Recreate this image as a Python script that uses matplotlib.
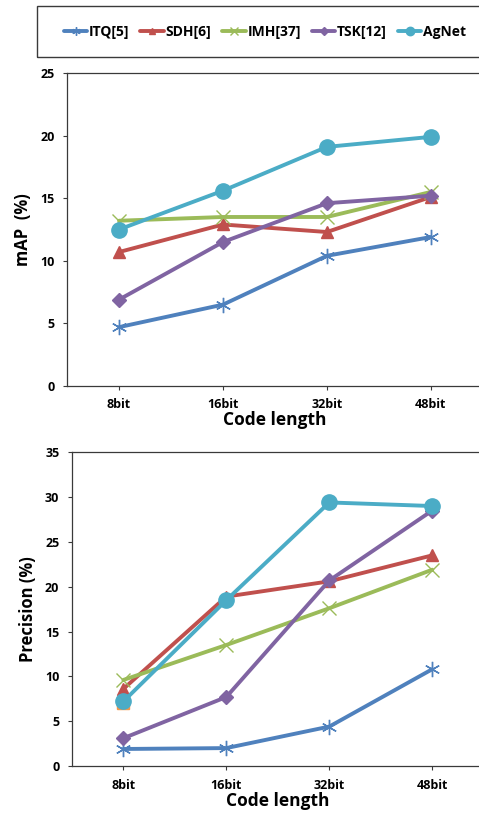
import matplotlib
matplotlib.use("Agg")
import matplotlib.pyplot as plt
from matplotlib.patches import Rectangle

plt.rcParams['font.family'] = ['Open Sans', 'DejaVu Sans']
plt.rcParams['font.weight'] = 'bold'

# Data
code_lengths = ["8bit", "16bit", "32bit", "48bit"]
methods = ["ITQ[5]", "SDH[6]", "IMH[37]", "TSK[12]", "AgNet"]

map_itq = [4.7, 6.5, 10.4, 11.9]
map_sdh = [10.7, 12.9, 12.3, 15.1]
map_imh = [13.2, 13.5, 13.5, 15.5]
map_tsk = [6.9, 11.5, 14.6, 15.2]
map_agnet = [12.5, 15.6, 19.1, 19.9]

prec_itq = [1.9, 2.0, 4.4, 10.8]
prec_sdh = [8.6, 18.9, 20.6, 23.5]
prec_imh = [9.6, 13.5, 17.6, 21.9]
prec_tsk = [3.1, 7.7, 20.7, 28.5]
prec_agnet = [7.2, 18.5, 29.4, 29.0]
prec_stray = [7.0]  # orange square peeking out under AgNet at 8bit

colors = ["#4F81BD", "#C0504D", "#9BBB59", "#8064A2", "#4BACC6"]
markers = [(6, 2, 0), "^", "x", "D", "o"]
msizes = [11, 9, 10, 7, 11]

fig = plt.figure(figsize=(4.79, 8.15), dpi=100)


def draw(ax, series, ylim, yticks, ylabel):
    x = range(len(code_lengths))
    for vals, c, m, ms, name in zip(series, colors, markers, msizes, methods):
        ax.plot(x, vals, color=c, lw=2.8, marker=m, markersize=ms,
                markeredgewidth=1.0, markeredgecolor=c, label=name,
                solid_capstyle='round', zorder=3)
    ax.set_xlim(-0.5, 3.5)
    ax.set_ylim(*ylim)
    ax.set_yticks(yticks)
    ax.set_xticks(list(x))
    ax.set_xticklabels(code_lengths)
    for s in ["left", "top", "bottom"]:
        ax.spines[s].set_color("#3a3a3a")
        ax.spines[s].set_linewidth(0.9)
    ax.spines["right"].set_visible(False)
    ax.tick_params(direction='out', length=3, width=0.8, color="#3a3a3a",
                   labelsize=9, pad=6)
    for lab in ax.get_xticklabels() + ax.get_yticklabels():
        lab.set_fontweight('bold')
    ax.set_xlabel("Code length", fontsize=12.5, fontweight='bold', labelpad=0)
    ax.set_ylabel(ylabel, fontsize=12, fontweight='bold', labelpad=6)


ax1 = fig.add_axes([0.140, 0.5264, 0.868, 0.384])
draw(ax1, [map_itq, map_sdh, map_imh, map_tsk, map_agnet],
     (0, 25), [0, 5, 10, 15, 20, 25], "mAP  (%)")

ax2 = fig.add_axes([0.150, 0.0601, 0.860, 0.385])
ax2.plot([0], prec_stray, ls='none', marker='s', markersize=8,
         color="#F79646", zorder=2)
draw(ax2, [prec_itq, prec_sdh, prec_imh, prec_tsk, prec_agnet],
     (0, 35), [0, 5, 10, 15, 20, 25, 30, 35], "Precision (%)")

# legend box
fig.patches.append(Rectangle((37 / 479, 1 - 57 / 815), 0.95, 51 / 815,
                             transform=fig.transFigure, fill=False,
                             edgecolor="#3a3a3a", lw=1.0))
handles, labels = ax1.get_legend_handles_labels()
leg = fig.legend(handles, labels, loc='center', bbox_to_anchor=(0.553, 1 - 32 / 815),
                 ncol=5, frameon=False, handlelength=1.7, handletextpad=0.1,
                 columnspacing=0.8, fontsize=10, markerscale=0.55)
for t in leg.get_texts():
    t.set_fontweight('bold')

fig.savefig("out.png", dpi=100)
